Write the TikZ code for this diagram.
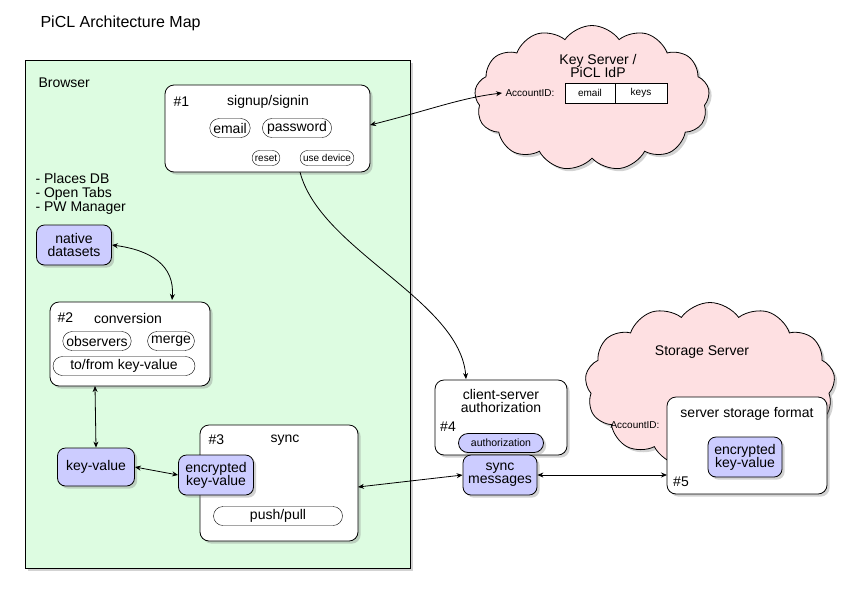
\documentclass[tikz,border=0pt]{standalone}
\usepackage{fontspec}
\setmainfont{Liberation Sans}
\usetikzlibrary{shapes.symbols,shapes.misc,shadows,arrows.meta}
\definecolor{bgreen}{HTML}{DDFCE1}
\definecolor{lblue}{HTML}{CCCCFF}
\definecolor{lpink}{HTML}{FEE0E2}
\begin{document}
\begin{tikzpicture}[x=1pt,y=-1pt,
  box/.style={draw,thick,rounded corners=9pt,fill=white,drop shadow={opacity=0.35}},
  bbox/.style={draw,thick,rounded corners=8pt,fill=lblue,align=center,inner sep=2pt,font=\fontsize{14}{15}\selectfont,drop shadow={opacity=0.35}},
  pill/.style={draw,rounded rectangle,sharp corners,fill=white,font=\fontsize{14}{15}\selectfont,inner sep=2pt,minimum height=19},
  spill/.style={draw,rounded rectangle,sharp corners,fill=white,font=\fontsize{10}{11}\selectfont,inner sep=2pt,minimum height=15},
  lbl/.style={font=\fontsize{14}{16}\selectfont,align=center},
  cl/.style={cloud,cloud puffs=13,cloud puff arc=110,draw,thick,fill=lpink,drop shadow={opacity=0.35}},
  arr/.style={thick,{Stealth[length=6pt,width=5pt]}-{Stealth[length=6pt,width=5pt]}}]
\useasboundingbox (0,0) rectangle (856,595);
\node[lbl,anchor=west,font=\fontsize{16}{18}\selectfont] (title) at (37,23) {PiCL Architecture Map};
% clouds
\node[cl,minimum width=235,minimum height=145] (ks) at (592,98) {};
\node[cl,minimum width=250,minimum height=165] (ss) at (710,385) {};
\node[lbl] (kst) at (598,66) {Key Server /\\[-3pt]PiCL IdP};
\node[font=\fontsize{10}{11}\selectfont] (acc1) at (530,93) {AccountID:};
\node[draw,fill=white,minimum width=50,minimum height=20,font=\fontsize{10}{11}\selectfont] (em) at (590,93) {email};
\node[draw,fill=white,minimum width=52,minimum height=20,font=\fontsize{10}{11}\selectfont] (keys) at (641,93) {keys};
\node[lbl] (sst) at (702,352) {Storage Server};
\node[font=\fontsize{10}{11}\selectfont] (acc2) at (635,425) {AccountID:};
% browser
\draw[thick,fill=bgreen,drop shadow={opacity=0.35}] (25,60) rectangle (410,568);
\node[lbl,anchor=west] (br) at (35,83) {Browser};
% #1
\draw[box] (165,85) rectangle (370,172);
\node[lbl,anchor=west] (n1) at (170,102) {\#1};
\node[lbl] (su) at (268,102) {signup/signin};
\node[pill] (pe) at (230,128) {email};
\node[pill] (pp) at (297,128) {password};
\node[spill] (pr) at (266,158) {reset};
\node[spill] (pu) at (327,158) {use device};
% list
\node[lbl,anchor=north west,align=left] (list) at (32,170) {- Places DB\\[-2pt]- Open Tabs\\[-2pt]- PW Manager};
\node[bbox,minimum width=75,minimum height=40] (nd) at (74,245) {native\\[-2pt]datasets};
% #2
\draw[box] (50,302) rectangle (210,386);
\node[lbl,anchor=west] (n2) at (54,318) {\#2};
\node[lbl] (cv) at (128,318) {conversion};
\node[pill] (po) at (97,341) {observers};
\node[pill] (pm) at (171,341) {merge};
\node[pill,minimum width=146] (pk) at (124,366) {to/from key-value};
\node[bbox,minimum width=77,minimum height=38] (kv) at (96,467) {key-value};
% #3
\draw[box] (200,425) rectangle (358,541);
\node[lbl,anchor=west] (n3) at (205,440) {\#3};
\node[lbl] (sy) at (285,440) {sync};
\node[bbox,minimum width=75,minimum height=40] (ekv) at (216,475) {encrypted\\[-2pt]key-value};
\node[pill,minimum width=133] (pp2) at (278,516) {push/pull};
% #4
\draw[box] (435,380) rectangle (567,455);
\node[lbl] (csa) at (501,401) {client-server\\[-3pt]authorization};
\node[lbl] (n4) at (448,427) {\#4};
\node[bbox,rounded rectangle,sharp corners,minimum width=87,minimum height=19,font=\fontsize{10.5}{11}\selectfont,inner sep=1pt] (auth) at (501,443) {authorization};
\node[bbox,minimum width=74,minimum height=40] (sm) at (500,475) {sync\\[-2pt]messages};
% #5
\draw[box] (667,397) rectangle (827,494);
\node[lbl] (ssf) at (747,414) {server storage format};
\node[bbox,minimum width=74,minimum height=40] (ekv2) at (745,457) {encrypted\\[-2pt]key-value};
\node[lbl] (n5) at (681,482) {\#5};
% anchors
\coordinate (s1r) at (370,125);
\coordinate (s1b) at (300,172);
\coordinate (c2t) at (172,300);
\coordinate (c2b) at (95,386);
\coordinate (s3r) at (358,487);
\coordinate (c4t) at (466,379);
\coordinate (s5l) at (667,475);
% arrows
\draw[arr] (s1r) .. controls (430,110) and (460,98) .. (acc1.west);
\draw[arr] (nd.east) .. controls (150,250) and (175,265) .. (c2t);
\draw[arr] (c2b) -- (kv.north);
\draw[arr] (kv.east) -- (ekv.west);
\draw[arr] (s3r) -- (sm.west);
\draw[arr] (sm.east) -- (s5l);
\draw[thick,-{Stealth[length=6pt,width=5pt]}] (s1b) .. controls (320,250) and (460,300) .. (c4t);
\end{tikzpicture}
\end{document}
